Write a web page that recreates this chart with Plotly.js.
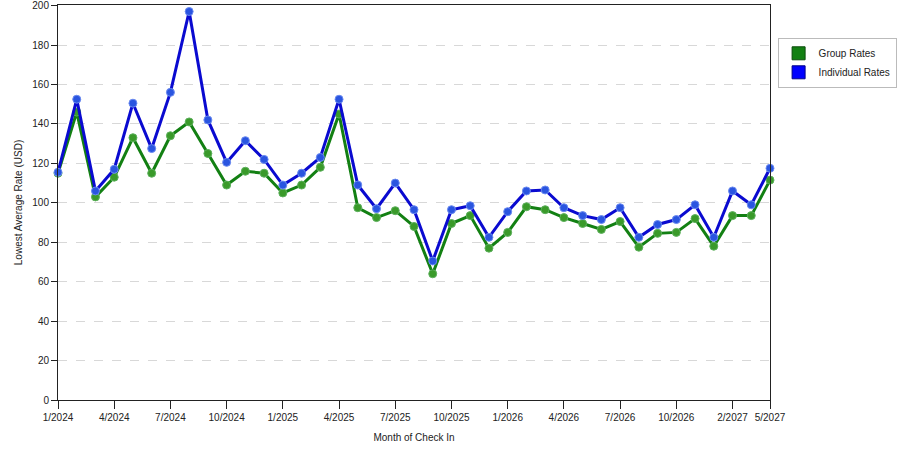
<!DOCTYPE html>
<html>
<head>
<meta charset="utf-8">
<script src="https://cdn.plot.ly/plotly-3.0.1.min.js"></script>
<style>
  html, body { margin: 0; padding: 0; background: #fff; }
  #chart { width: 900px; height: 450px; }
</style>
</head>
<body>
<div id="chart"></div>
<script>
// months on the axis (the source skips a couple of months near the end)
var months = [
  '1/2024', '2/2024', '3/2024', '4/2024', '5/2024', '6/2024', '7/2024', '8/2024', '9/2024', '10/2024', '11/2024', '12/2024',
  '1/2025', '2/2025', '3/2025', '4/2025', '5/2025', '6/2025', '7/2025', '8/2025', '9/2025', '10/2025', '11/2025', '12/2025',
  '1/2026', '2/2026', '3/2026', '4/2026', '5/2026', '6/2026', '7/2026', '8/2026', '9/2026', '10/2026', '11/2026', '12/2026',
  '2/2027', '3/2027', '5/2027'
];

var groupRates = [
  115, 146, 103, 113, 133, 115, 134, 141, 125, 109, 116, 115,
  105, 109, 118, 145, 97.5, 92.5, 96, 88, 64, 89.5, 93.5, 77,
  85, 98, 96.5, 92.5, 89.5, 86.5, 90.5, 77.5, 84.5, 85, 92, 78,
  93.5, 93.5, 111.5
];

var individualRates = [
  115.5, 152.5, 106, 117, 150.5, 127.5, 156, 197, 142, 120.5, 131.5, 122,
  109, 115, 123, 152.5, 109, 97, 110, 96.5, 70.5, 96.5, 98.5, 82.5,
  95.5, 106, 106.5, 97.5, 93.5, 91.5, 97.5, 82.5, 89, 91.5, 99, 82.5,
  106, 99, 117.5
];

var tickMonths = ['1/2024', '4/2024', '7/2024', '10/2024', '1/2025', '4/2025', '7/2025',
  '10/2025', '1/2026', '4/2026', '7/2026', '10/2026', '2/2027', '5/2027'];

var rateTicks = [0, 20, 40, 60, 80, 100, 120, 140, 160, 180, 200];

var greenLine = '#138013', greenDot = '#3a9a2a';
var blueLine = '#0a0ad0', blueDot = '#2a55e0';

var data = [
  {
    x: months, y: groupRates, type: 'scatter', mode: 'lines+markers',
    line: { color: greenLine, width: 3 },
    marker: { color: greenDot, size: 8, line: { color: '#5cb05c', width: 1 } },
    showlegend: false, hoverinfo: 'x+y', cliponaxis: false
  },
  {
    x: months, y: individualRates, type: 'scatter', mode: 'lines+markers',
    line: { color: blueLine, width: 3 },
    marker: { color: blueDot, size: 8, line: { color: '#6a8af0', width: 1 } },
    showlegend: false, hoverinfo: 'x+y', cliponaxis: false
  },
  // legend-only entries so the keys are plain squares
  {
    x: [null], y: [null], type: 'scatter', mode: 'markers', name: 'Group Rates',
    marker: { symbol: 'square', color: '#138013', size: 13, line: { color: '#0a4a0a', width: 1 } }
  },
  {
    x: [null], y: [null], type: 'scatter', mode: 'markers', name: 'Individual Rates',
    marker: { symbol: 'square', color: '#0000ff', size: 13, line: { color: '#000088', width: 1 } }
  }
];

var layout = {
  width: 900,
  height: 450,
  margin: { l: 58, r: 130, t: 5, b: 50 },
  paper_bgcolor: '#fff',
  plot_bgcolor: '#fff',
  font: { family: 'Liberation Sans, Arial, sans-serif', size: 10, color: '#222' },
  xaxis: {
    type: 'category',
    categoryorder: 'array',
    categoryarray: months,
    tickmode: 'array',
    tickvals: tickMonths,
    ticktext: tickMonths,
    range: [0, months.length - 1],
    automargin: false,
    showgrid: false,
    zeroline: false,
    showline: true, mirror: true, linecolor: '#222', linewidth: 1,
    ticks: 'outside', ticklen: 8, tickcolor: '#222',
    tickfont: { size: 10 },
    title: { text: 'Month of Check In', font: { size: 10 }, standoff: 11 }
  },
  yaxis: {
    range: [0, 200.3],
    tickmode: 'array',
    tickvals: rateTicks,
    ticktext: rateTicks.map(String),
    automargin: false,
    showgrid: true, gridcolor: '#d8d8d8', griddash: 'dash',
    zeroline: false,
    showline: true, mirror: true, linecolor: '#222', linewidth: 1,
    ticks: 'outside', ticklen: 6, tickcolor: '#222',
    tickfont: { size: 10 },
    title: { text: 'Lowest Average Rate (USD)', font: { size: 10 }, standoff: 7 }
  },
  legend: {
    xref: 'container', yref: 'container',
    x: 0.864, y: 0.916, xanchor: 'left', yanchor: 'top',
    bordercolor: '#bbb', borderwidth: 1, bgcolor: '#fff',
    font: { size: 10 },
    itemwidth: 30
  },
  hovermode: 'closest'
};

Plotly.newPlot('chart', data, layout, { displayModeBar: false, staticPlot: true });
</script>
</body>
</html>
